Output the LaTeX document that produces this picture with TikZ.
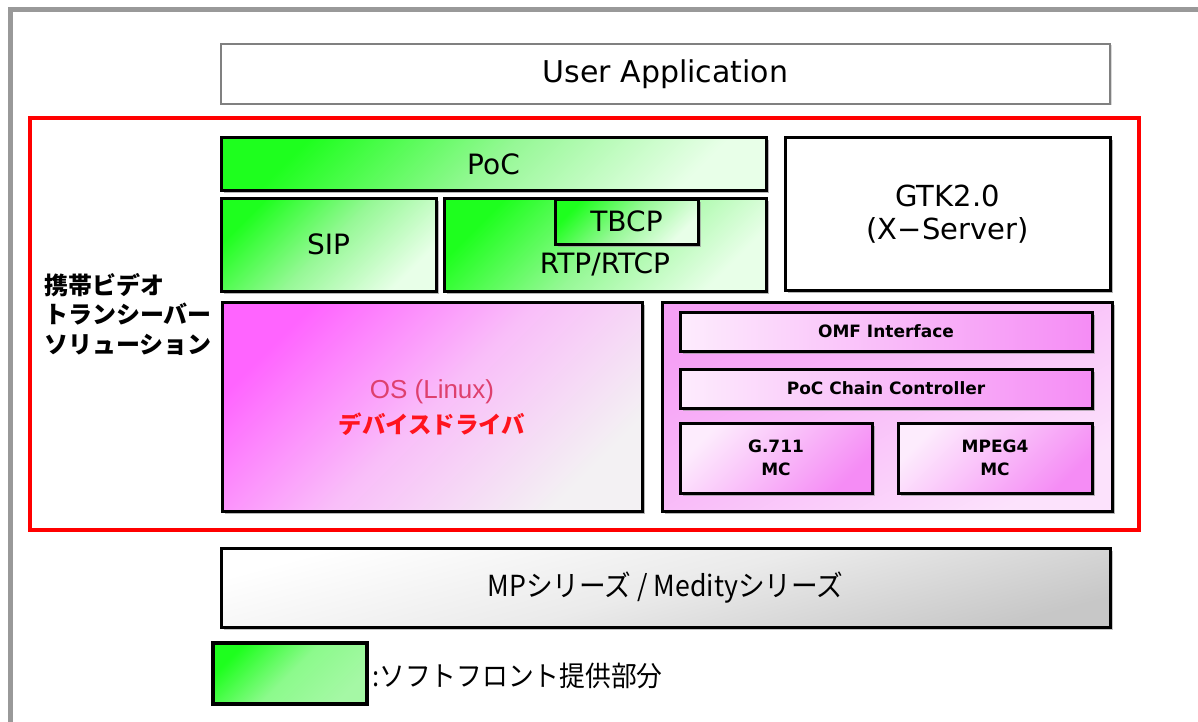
\documentclass[tikz,border=0pt]{standalone}
\usepackage{fontspec}
\setmainfont{DejaVu Sans}
\newfontfamily\arialf{Liberation Sans}
\newfontfamily\cjk{Noto Sans CJK JP}
\newfontfamily\cjkc[FakeStretch=0.92]{Noto Sans CJK JP}
\usetikzlibrary{shadows}
\newcommand\setfs[2]{\fontsize{#1}{#2}\selectfont}
\definecolor{gA}{RGB}{30,255,30}
\definecolor{gB}{RGB}{150,248,150}
\definecolor{gC}{RGB}{232,255,232}
\definecolor{pA}{RGB}{255,100,255}
\definecolor{pB}{RGB}{249,190,249}
\definecolor{pC}{RGB}{243,241,243}
\definecolor{pL}{RGB}{253,236,253}
\definecolor{pD}{RGB}{245,140,245}
\definecolor{pBgA}{RGB}{246,160,246}
\definecolor{pBgB}{RGB}{252,226,252}
\definecolor{frame}{RGB}{153,153,153}
\definecolor{ostext}{RGB}{222,64,110}
\definecolor{ddtext}{RGB}{255,20,30}
\tikzset{
  box/.style={rectangle, inner sep=0pt, outer sep=0pt, anchor=north west},
  shad/.style={drop shadow={shadow xshift=2.5pt, shadow yshift=-2.5pt, fill=black!40, opacity=0.7}},
  greenbox/.style={box, shad, draw=black, line width=3pt,
     top color=gA, bottom color=gC, middle color=gB, shading angle=45,
     font=\setfs{28}{32}},
  pinkbox/.style={box, shad, draw=black, line width=3pt,
     top color=pL, bottom color=pD, middle color={pL!50!pD}, shading angle=45,
     font=\bfseries\setfs{17}{23}, align=center},
}
\begin{document}
\begin{tikzpicture}[x=1pt,y=-1pt]
\useasboundingbox (0,0) rectangle (1198,722);
\fill[white] (0,0) rectangle (1198,722);
% outer gray frame
\coordinate (fbl) at (10,722);
\coordinate (ftl) at (10,10);
\coordinate (ftr) at (1198,10);
\draw[frame, line width=5pt] (fbl) -- (ftl) -- (ftr);

% user application
\node[box, draw=black!50, line width=1.5pt, fill=white,
      drop shadow={shadow xshift=1.5pt, shadow yshift=-1.5pt, fill=black!30},
      minimum width=889pt, minimum height=60pt, font=\setfs{30}{32}]
  (app) at (221,44) {User Application};

% red solution frame
\node[box, draw=red, line width=4pt, minimum width=1109pt, minimum height=412pt]
  (sol) at (30,118) {};

% left label
\node[anchor=north west, inner sep=0pt, align=left,
      font=\cjk\bfseries\setfs{24}{29.5}] (sollabel) at (44,273)
  {携帯ビデオ\\トランシーバー\\ソリューション};

% green blocks
\node[greenbox, minimum width=545pt, minimum height=52pt] (poc) at (221,138) {PoC};
\node[greenbox, minimum width=215pt, minimum height=93pt] (sip) at (221,198) {SIP};
\node[greenbox, minimum width=322pt, minimum height=93pt] (rtp) at (444,198) {};
\node[greenbox, drop shadow={opacity=0}, minimum width=143pt, minimum height=45pt] (tbcp) at (555,199) {TBCP};
\node[font=\setfs{28}{32}, inner sep=0pt] (rtptext) at (605,264) {RTP/RTCP};

% GTK
\node[box, shad, draw=black, line width=3pt, fill=white, align=center,
      minimum width=325pt, minimum height=152pt, font=\setfs{29}{33}]
  (gtk) at (785,138) {GTK2.0\\(X−Server)};

% OS block
\node[box, shad, draw=black, line width=3pt,
      top color=pA, bottom color=pC, middle color=pB, shading angle=45,
      minimum width=420pt, minimum height=209pt] (os) at (222,302) {};
\node[text=ostext, font=\arialf\setfs{26}{30}, inner sep=0pt] (ostext) at (432,392) {OS (Linux)};
\node[text=ddtext, font=\cjk\bfseries\setfs{23.5}{28}, inner sep=0pt] (ddtext) at (432,424) {デバイスドライバ};

% purple container
\node[box, shad, draw=black, line width=3pt,
      top color=pBgA, bottom color=pBgB, shading angle=30,
      minimum width=450pt, minimum height=209pt] (omfpanel) at (662,302) {};
\node[pinkbox, left color=pL, right color=pD, minimum width=412pt, minimum height=39pt] (omf) at (680,312) {OMF Interface};
\node[pinkbox, left color=pL, right color=pD, minimum width=412pt, minimum height=39pt] (pcc) at (680,369) {PoC Chain Controller};
\node[pinkbox, minimum width=192pt, minimum height=70pt] (g711) at (680,423) {G.711\\MC};
\node[pinkbox, minimum width=194pt, minimum height=70pt] (mpeg) at (898,423) {MPEG4\\MC};

% MP series
\node[box, draw=black, line width=3pt,
      drop shadow={shadow xshift=3pt, shadow yshift=-3pt, fill=black!45},
      top color=white, bottom color=black!22, middle color=black!8, shading angle=15,
      minimum width=889pt, minimum height=79pt, font=\cjkc\setfs{29}{30}]
  (mp) at (221,548) {MPシリーズ / Medityシリーズ};

% legend
\node[box, draw=black, line width=4pt,
      top color=gA, bottom color={rgb,255:red,165;green,248;blue,165}, middle color={rgb,255:red,140;green,250;blue,140}, shading angle=45,
      minimum width=154pt, minimum height=61pt] (legend) at (213,643) {};
\node[anchor=west, inner sep=0pt, font=\cjkc\setfs{28}{32}] (legendtext) at (372,676) {:ソフトフロント提供部分};
\end{tikzpicture}
\end{document}
